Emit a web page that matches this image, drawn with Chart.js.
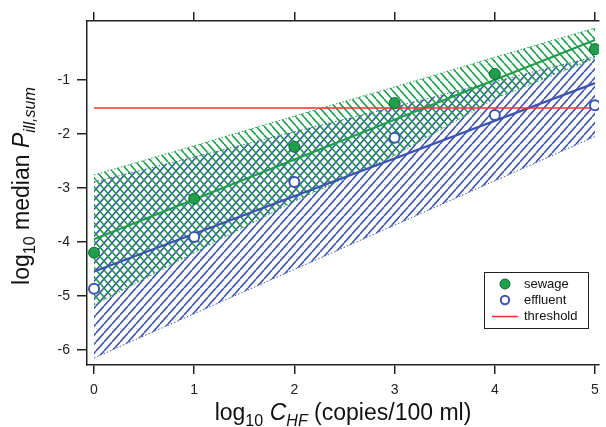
<!DOCTYPE html>
<html lang="en">
<head>
    <meta charset="UTF-8">
    <title>log10 median P ill,sum vs log10 C HF</title>
    <script src="https://cdn.jsdelivr.net/npm/chart.js"></script>
    <style>
        body {
            margin: 0;
            padding: 0;
            background: #ffffff;
        }
        #wrap {
            width: 606px;
            height: 427px;
        }
    </style>
</head>
<body>
    <div id="wrap">
        <canvas id="pillChart" width="606" height="427"></canvas>
    </div>

    <script>
        // values
        const xValues = [0, 1, 2, 3, 4, 5];
        const sewageMedian = [-4.2, -3.2, -2.24, -1.43, -0.89, -0.43];
        const effluentMedian = [-4.87, -3.91, -2.89, -2.07, -1.65, -1.47];

        const fitX = [0, 5];
        const sewageFit = [-3.95, -0.26];
        const effluentFit = [-4.55, -1.06];

        const thresholdX = [0, 5];
        const thresholdY = [-1.52, -1.52];

        const sewageBandUpper = [-2.76, -2.22, -1.67, -1.13, -0.58, -0.04];
        const sewageBandLower = [-5.17, -4.2, -3.25, -2.4, -1.35, -0.6];
        const effluentBandUpper = [-2.89, -2.43, -1.96, -1.5, -1.03, -0.57];
        const effluentBandLower = [-6.15, -5.33, -4.51, -3.69, -2.87, -2.05];

        const xTicks = [0, 1, 2, 3, 4, 5];
        const yTicks = [-6, -5, -4, -3, -2, -1];

        const GREEN = "#1f9e4b";
        const GREEN_DARK = "#0c6a2e";
        const BLUE = "#3d55b0";
        const RED = "#ff2b2b";
        const AXIS = "#222222";
        const FONT = "'Liberation Sans', Arial, sans-serif";

        Chart.defaults.font.family = FONT;

        function pts(xs, ys) {
            return xs.map((x, i) => ({ x: x, y: ys[i] }));
        }

        // hatch tile, dir = 1 for "/" and -1 for "\"
        function hatch(color, dir) {
            const w = 8, h = 9;
            const c = document.createElement("canvas");
            c.width = w;
            c.height = h;
            const g = c.getContext("2d");
            g.strokeStyle = color;
            g.lineWidth = 1.6;
            g.beginPath();
            for (let k = -1; k <= 1; k++) {
                const x0 = k * w;
                if (dir > 0) {
                    g.moveTo(x0, h);
                    g.lineTo(x0 + w, 0);
                } else {
                    g.moveTo(x0, 0);
                    g.lineTo(x0 + w, h);
                }
            }
            g.stroke();
            return g.createPattern(c, "repeat");
        }

        const ctx = document.getElementById("pillChart").getContext("2d");
        const greenHatch = hatch(GREEN, -1);
        const blueHatch = hatch(BLUE, 1);

        // draw text made of pieces (italic / subscript)
        function richText(c, parts, size) {
            let total = 0;
            parts.forEach(p => {
                const fs = p.sub ? size * 0.7 : size;
                c.font = (p.italic ? "italic " : "") + fs + "px " + FONT;
                p.w = c.measureText(p.text).width;
                total += p.w;
            });
            let x = -total / 2;
            parts.forEach(p => {
                const fs = p.sub ? size * 0.7 : size;
                c.font = (p.italic ? "italic " : "") + fs + "px " + FONT;
                c.fillText(p.text, x, p.sub ? size * 0.27 : 0);
                x += p.w;
            });
        }

        const titlesAndLegend = {
            id: "titlesAndLegend",
            afterDraw(chart) {
                const c = chart.ctx;
                c.save();
                c.fillStyle = "#111";
                c.textAlign = "left";
                c.textBaseline = "alphabetic";

                // x title
                c.save();
                c.translate(343, 420);
                richText(c, [
                    { text: "log" },
                    { text: "10", sub: true },
                    { text: " " },
                    { text: "C", italic: true },
                    { text: "HF", italic: true, sub: true },
                    { text: " (copies/100 ml)" }
                ], 23);
                c.restore();

                // y title
                c.save();
                c.translate(29, 186);
                c.rotate(-Math.PI / 2);
                richText(c, [
                    { text: "log" },
                    { text: "10", sub: true },
                    { text: " median " },
                    { text: "P", italic: true },
                    { text: "ill,sum", italic: true, sub: true }
                ], 23);
                c.restore();

                // legend box
                const bx = 484.5, by = 272.5, bw = 104, bh = 56;
                c.fillStyle = "#fff";
                c.fillRect(bx, by, bw, bh);
                c.strokeStyle = AXIS;
                c.lineWidth = 1;
                c.strokeRect(bx, by, bw, bh);

                c.beginPath();
                c.arc(505, 284, 5, 0, Math.PI * 2);
                c.fillStyle = GREEN;
                c.fill();
                c.strokeStyle = GREEN_DARK;
                c.lineWidth = 1;
                c.stroke();

                c.beginPath();
                c.arc(505, 300, 4.2, 0, Math.PI * 2);
                c.fillStyle = "#fff";
                c.fill();
                c.strokeStyle = BLUE;
                c.lineWidth = 2;
                c.stroke();

                c.beginPath();
                c.moveTo(492, 316.5);
                c.lineTo(518, 316.5);
                c.strokeStyle = RED;
                c.lineWidth = 1.5;
                c.stroke();

                c.fillStyle = "#111";
                c.font = "13px " + FONT;
                c.textBaseline = "middle";
                c.fillText("sewage", 524, 284);
                c.fillText("effluent", 524, 300);
                c.fillText("threshold", 524, 316);
                c.restore();
            }
        };

        const edge = (color) => ({
            borderColor: color,
            borderWidth: 1,
            borderDash: [1.5, 2],
            pointRadius: 0,
            order: 5
        });

        const chart = new Chart(ctx, {
            type: "line",
            data: {
                datasets: [
                    Object.assign({ data: pts(xValues, sewageBandUpper), fill: 1, backgroundColor: greenHatch }, edge(GREEN)),
                    Object.assign({ data: pts(xValues, sewageBandLower), fill: false }, edge(GREEN)),
                    Object.assign({ data: pts(xValues, effluentBandUpper), fill: 3, backgroundColor: blueHatch }, edge(BLUE)),
                    Object.assign({ data: pts(xValues, effluentBandLower), fill: false }, edge(BLUE)),
                    {
                        data: pts(fitX, sewageFit),
                        borderColor: GREEN,
                        borderWidth: 2.2,
                        pointRadius: 0,
                        fill: false,
                        order: 3
                    },
                    {
                        data: pts(fitX, effluentFit),
                        borderColor: BLUE,
                        borderWidth: 2.2,
                        pointRadius: 0,
                        fill: false,
                        order: 3
                    },
                    {
                        data: pts(thresholdX, thresholdY),
                        borderColor: RED,
                        borderWidth: 1.6,
                        pointRadius: 0,
                        fill: false,
                        order: 2
                    },
                    {
                        label: "sewage",
                        data: pts(xValues, sewageMedian),
                        showLine: false,
                        pointRadius: 5.5,
                        pointBackgroundColor: GREEN,
                        pointBorderColor: GREEN_DARK,
                        pointBorderWidth: 1,
                        order: 1
                    },
                    {
                        label: "effluent",
                        data: pts(xValues, effluentMedian),
                        showLine: false,
                        pointRadius: 5,
                        pointBackgroundColor: "#fff",
                        pointBorderColor: BLUE,
                        pointBorderWidth: 2,
                        order: 1
                    }
                ]
            },
            options: {
                responsive: false,
                animation: false,
                layout: { padding: 0 },
                plugins: {
                    legend: { display: false },
                    tooltip: { enabled: false }
                },
                scales: {
                    x: {
                        type: "linear",
                        position: "bottom",
                        min: -0.07,
                        max: 5.04,
                        afterBuildTicks: s => { s.ticks = xTicks.map(v => ({ value: v })); },
                        afterFit: s => { s.height = 62; s.paddingLeft = 0; s.paddingRight = 0; },
                        ticks: {
                            color: AXIS,
                            font: { size: 14 },
                            padding: 8,
                            maxRotation: 0,
                            callback: v => String(v)
                        },
                        grid: {
                            drawOnChartArea: false,
                            drawTicks: true,
                            tickLength: 9,
                            tickColor: AXIS,
                            lineWidth: 1.5
                        },
                        border: { display: true, color: AXIS, width: 1.5 }
                    },
                    x2: {
                        type: "linear",
                        position: "top",
                        min: -0.07,
                        max: 5.04,
                        afterBuildTicks: s => { s.ticks = xTicks.map(v => ({ value: v })); },
                        afterFit: s => { s.height = 21; s.paddingLeft = 0; s.paddingRight = 0; },
                        ticks: { display: false },
                        grid: {
                            drawOnChartArea: false,
                            drawTicks: true,
                            tickLength: 9,
                            tickColor: AXIS,
                            lineWidth: 1.5
                        },
                        border: { display: true, color: AXIS, width: 1.5 }
                    },
                    y: {
                        type: "linear",
                        position: "left",
                        min: -6.28,
                        max: 0.09,
                        afterBuildTicks: s => { s.ticks = yTicks.map(v => ({ value: v })); },
                        afterFit: s => { s.width = 87; s.paddingTop = 0; s.paddingBottom = 0; },
                        ticks: {
                            color: AXIS,
                            font: { size: 14 },
                            padding: 7,
                            callback: v => String(v)
                        },
                        grid: {
                            drawOnChartArea: false,
                            drawTicks: true,
                            tickLength: 10,
                            tickColor: AXIS,
                            lineWidth: 1.5
                        },
                        border: { display: true, color: AXIS, width: 1.5 }
                    }
                }
            },
            plugins: [titlesAndLegend]
        });
    </script>
</body>
</html>
